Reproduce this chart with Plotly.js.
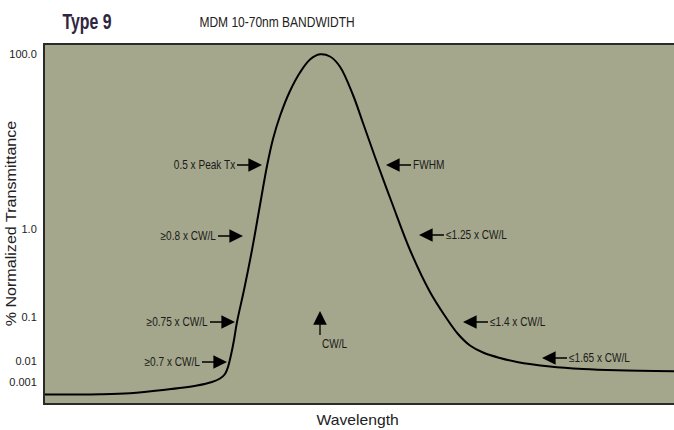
<!DOCTYPE html>
<html>
<head>
<meta charset="utf-8">
<script src="https://cdn.plot.ly/plotly-3.0.1.min.js"></script>
<style>html,body{margin:0;padding:0;background:#fff;}#chart{width:674px;height:430px;}</style>
</head>
<body>
<div id="chart"></div>
<script>
// Schematic transmission curve (arbitrary wavelength units, schematic display units)
var wavelength = [0, 55, 85, 118, 152, 167, 175, 180, 183, 186, 189, 192, 199, 207, 215, 222, 228, 235, 245, 255, 265, 275, 285, 295, 308, 318, 330, 347, 365, 385, 400, 413, 425, 438, 455, 472, 505, 538, 572, 629];
var transmission = [8.5, 8.8, 9.8, 13, 17.5, 21, 24.5, 29, 36, 48, 63, 81, 113, 153, 198, 237, 264, 287, 312, 330.5, 343.5, 348.7, 346.5, 336.3, 308, 280, 246, 200, 153, 111, 87, 69, 57.5, 50.5, 45, 41, 36.5, 34, 32.7, 31.8];

// Y-axis tick positions (display units) and labels
var yTickVals = [349, 174, 86, 42, 21];
var yTickText = ["100.0", "1.0", "0.1", "0.01", "0.001"];

// Annotation labels and the curve points they point to
var leftLabels = ["0.5 x Peak Tx", "\u22650.8 x CW/L", "\u22650.75 x CW/L", "\u22650.7 x CW/L"];
var leftX = [217, 198, 190, 182];
var leftY = [238, 167, 81, 41];
var rightLabels = ["FWHM", "\u22641.25 x CW/L", "\u22641.4 x CW/L", "\u22641.65 x CW/L"];
var rightX = [341, 374, 418, 497];
var rightY = [238, 168, 81, 45];
var cwLabel = "CW/L";
var cwX = 275, cwY = 92;

var regular = '"Liberation Sans", Arial, sans-serif';
var arrowStyle = {arrowhead: 2, arrowsize: 2.1, arrowwidth: 1.3, arrowcolor: '#000'};
var labelFont = {family: regular, size: 12, color: '#1a1a1a'};

var annotations = [];
var squeeze = []; // [scaleX, origin] per annotation
leftLabels.forEach(function(t, i) {
  annotations.push(Object.assign({
    x: leftX[i], y: leftY[i], xref: 'x', yref: 'y', text: t,
    showarrow: true, ax: -25, ay: 0, xanchor: 'right', yanchor: 'middle', font: labelFont
  }, arrowStyle));
  squeeze.push([0.84, '100% 50%']);
});
rightLabels.forEach(function(t, i) {
  annotations.push(Object.assign({
    x: rightX[i], y: rightY[i], xref: 'x', yref: 'y', text: t,
    showarrow: true, ax: 25, ay: 0, xanchor: 'left', yanchor: 'middle', font: labelFont
  }, arrowStyle));
  squeeze.push([0.84, '0% 50%']);
});
annotations.push(Object.assign({
  x: cwX, y: cwY, xref: 'x', yref: 'y', text: cwLabel,
  showarrow: true, ax: 0, ay: 24, xanchor: 'left', yanchor: 'top', font: labelFont
}, arrowStyle));
squeeze.push([0.84, '0% 50%']);
annotations.push({
  text: '<b>Type 9</b>', xref: 'paper', yref: 'paper', x: 0.066, y: 1.067,
  xanchor: 'center', yanchor: 'middle', showarrow: false,
  font: {family: regular, size: 22, color: '#2f2640'}
});
squeeze.push([0.72, '50% 50%']);
annotations.push({
  text: 'MDM 10-70nm BANDWIDTH', xref: 'paper', yref: 'paper', x: 0.3696, y: 1.067,
  xanchor: 'center', yanchor: 'middle', showarrow: false,
  font: {family: regular, size: 15, color: '#222'}
});
squeeze.push([0.8, '50% 50%']);
annotations.push({
  text: 'Wavelength', xref: 'paper', yref: 'paper', x: 0.4976, y: -0.047,
  xanchor: 'center', yanchor: 'middle', showarrow: false,
  font: {family: regular, size: 14, color: '#222'}
});
squeeze.push([1.12, '50% 50%']);
annotations.push({
  text: '% Normalized Transmittance', xref: 'paper', yref: 'paper', x: 0, xshift: -34, y: 0.5,
  xanchor: 'center', yanchor: 'middle', showarrow: false, textangle: -90,
  font: {family: regular, size: 14, color: '#222'}
});
squeeze.push([1.15, '50% 50%']);

var trace = {
  x: wavelength, y: transmission, type: 'scatter', mode: 'lines',
  line: {color: '#000', width: 2, shape: 'spline', smoothing: 1},
  hoverinfo: 'skip'
};

var layout = {
  width: 674, height: 430,
  margin: {l: 45, r: 0, t: 45, b: 27},
  paper_bgcolor: '#ffffff',
  plot_bgcolor: '#a4a78b',
  showlegend: false,
  xaxis: {range: [0, 629], showgrid: false, zeroline: false, showticklabels: false, ticks: '',
          showline: true, mirror: true, linecolor: '#2a2a2a', linewidth: 2},
  yaxis: {range: [0, 358], showgrid: false, zeroline: false, ticks: '',
          tickvals: yTickVals, ticktext: yTickText, ticklabelstandoff: 4,
          tickfont: {family: regular, size: 11, color: '#222'},
          showline: true, linecolor: '#2a2a2a', linewidth: 2},
  annotations: annotations
};

Plotly.newPlot('chart', [trace], layout, {displayModeBar: false, staticPlot: true}).then(function(gd) {
  // condensed lettering like the original artwork
  gd.querySelectorAll('g.annotation').forEach(function(g) {
    var i = +g.getAttribute('data-index');
    var s = squeeze[i];
    var t = g.querySelector('text.annotation-text');
    if (!s || !t) return;
    t.style.transformBox = 'fill-box';
    t.style.transformOrigin = s[1];
    t.style.transform = 'scaleX(' + s[0] + ')';
  });
});
</script>
</body>
</html>
